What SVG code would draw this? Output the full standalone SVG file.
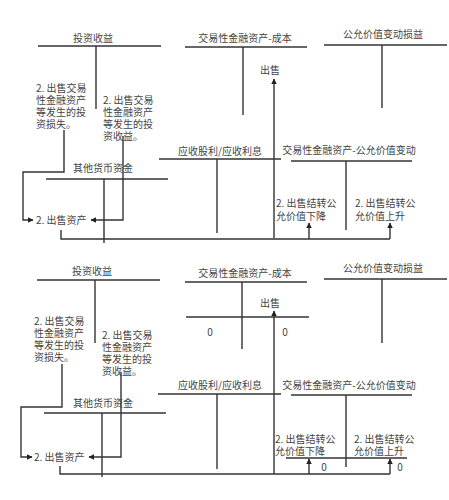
<svg xmlns="http://www.w3.org/2000/svg" width="449" height="500" viewBox="0 0 449 500">
<defs>
<style>
text{font-family:"Noto Sans CJK SC","Noto Sans",sans-serif;font-size:10px;fill:#444}
.m{text-anchor:middle}
line,polyline{stroke:#333;stroke-width:1.4;fill:none}
</style>
<marker id="ah" viewBox="0 0 10 10" refX="9" refY="5" markerWidth="4" markerHeight="4" orient="auto"><path d="M0,0L10,5L0,10z" fill="#222"/></marker>
</defs>
<rect width="449" height="500" fill="#fff"/>
<g id="top">
<g id="t-tzsy"><text class="m" x="93" y="42">投资收益</text><line x1="38" y1="46" x2="161" y2="46"/><line x1="96" y1="46" x2="96" y2="109"/></g>
<g id="t-cb"><text class="m" x="245" y="42">交易性金融资产-成本</text><line x1="185" y1="47" x2="307" y2="47"/><line x1="243" y1="47" x2="243" y2="115"/></g>
<g id="t-gybd"><text class="m" x="383" y="38">公允价值变动损益</text><line x1="324" y1="45" x2="447" y2="45"/><line x1="382" y1="45" x2="382" y2="108"/></g>
<g id="t-cs"><text class="m" x="270" y="74">出售</text></g>
<g id="t-loss"><text x="36" y="92">2. 出售交易<tspan x="36" dy="12">性金融资产</tspan><tspan x="36" dy="12">等发生的投</tspan><tspan x="36" dy="12">资损失。</tspan></text></g>
<g id="t-gain"><text x="103" y="104">2. 出售交易<tspan x="103" dy="12">性金融资产</tspan><tspan x="103" dy="12">等发生的投</tspan><tspan x="103" dy="12">资收益。</tspan></text></g>
<g id="t-qt"><text class="m" x="103" y="172">其他货币资金</text><line x1="46" y1="179" x2="168" y2="179"/><line x1="104" y1="179" x2="104" y2="243"/></g>
<g id="t-sale"><text x="36" y="224">2. 出售资产</text></g>
<g id="t-ys"><text class="m" x="220" y="155">应收股利/应收利息</text><line x1="159" y1="159" x2="281" y2="159"/><line x1="217" y1="159" x2="217" y2="233"/></g>
<g id="t-gy"><text class="m" x="349" y="154">交易性金融资产-公允价值变动</text><line x1="291" y1="161" x2="412" y2="161"/><line x1="346" y1="161" x2="346" y2="230"/></g>
<g id="t-down"><text x="276" y="207">2. 出售结转公<tspan x="276" dy="13">允价值下降</tspan></text></g>
<g id="t-up"><text x="355" y="207">2. 出售结转公<tspan x="355" dy="13">允价值上升</tspan></text></g>
</g>
<g id="top-connectors">
<line x1="274" y1="238" x2="274" y2="79" marker-end="url(#ah)"/>
<polyline points="64,130 64,172 23,172 23,220 33,220" marker-end="url(#ah)"/>
<polyline points="123,136 123,220 91,220" marker-end="url(#ah)"/>
<polyline points="61,230 61,239 390,239"/>
<line x1="309" y1="239" x2="309" y2="223" marker-end="url(#ah)"/>
<line x1="390" y1="239" x2="390" y2="223" marker-end="url(#ah)"/>
</g>
<g id="bottom">
<g id="b-tzsy"><text class="m" x="92" y="275">投资收益</text><line x1="37" y1="280" x2="160" y2="280"/><line x1="95" y1="280" x2="95" y2="343"/></g>
<g id="b-cb"><text class="m" x="245" y="277">交易性金融资产-成本</text><line x1="185" y1="282" x2="307" y2="282"/><line x1="242" y1="282" x2="242" y2="349"/><line x1="186" y1="317" x2="309" y2="317"/><text class="m" x="210" y="336">0</text><text class="m" x="285" y="336">0</text></g>
<g id="b-gybd"><text class="m" x="383" y="272">公允价值变动损益</text><line x1="324" y1="279" x2="447" y2="279"/><line x1="382" y1="279" x2="382" y2="343"/></g>
<g id="b-cs"><text class="m" x="270" y="307">出售</text></g>
<g id="b-loss"><text x="34" y="325">2. 出售交易<tspan x="34" dy="12">性金融资产</tspan><tspan x="34" dy="12">等发生的投</tspan><tspan x="34" dy="12">资损失。</tspan></text></g>
<g id="b-gain"><text x="102" y="339">2. 出售交易<tspan x="102" dy="12">性金融资产</tspan><tspan x="102" dy="12">等发生的投</tspan><tspan x="102" dy="12">资收益。</tspan></text></g>
<g id="b-qt"><text class="m" x="103" y="407">其他货币资金</text><line x1="44" y1="413" x2="166" y2="413"/><line x1="102" y1="413" x2="102" y2="477"/></g>
<g id="b-sale"><text x="34" y="461">2. 出售资产</text></g>
<g id="b-ys"><text class="m" x="220" y="389">应收股利/应收利息</text><line x1="158" y1="394" x2="281" y2="394"/><line x1="217" y1="394" x2="217" y2="469"/></g>
<g id="b-gy"><text class="m" x="349" y="389">交易性金融资产-公允价值变动</text><line x1="291" y1="395" x2="412" y2="395"/><line x1="346" y1="395" x2="346" y2="467"/><line x1="286" y1="458" x2="407" y2="458"/><text class="m" x="324" y="471">0</text><text class="m" x="400" y="471">0</text></g>
<g id="b-down"><text x="275" y="443">2. 出售结转公<tspan x="275" dy="12">允价值下降</tspan></text></g>
<g id="b-up"><text x="354" y="443">2. 出售结转公<tspan x="354" dy="12">允价值上升</tspan></text></g>
</g>
<g id="bottom-connectors">
<line x1="274" y1="474" x2="274" y2="311" marker-end="url(#ah)"/>
<polyline points="62,364 62,407 21,407 21,457 32,457" marker-end="url(#ah)"/>
<polyline points="121,372 121,457 89,457" marker-end="url(#ah)"/>
<polyline points="60,466 60,474 390,474"/>
<line x1="309" y1="474" x2="309" y2="459" marker-end="url(#ah)"/>
<line x1="390" y1="474" x2="390" y2="459" marker-end="url(#ah)"/>
</g>
</svg>
